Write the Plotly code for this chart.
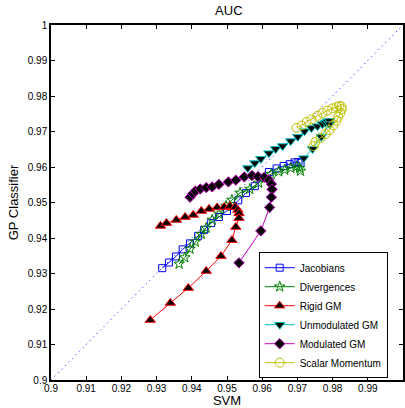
import plotly.graph_objects as go

# ---- data ----
jac_x = [0.9316, 0.9335, 0.9355, 0.9374, 0.9395, 0.9418, 0.9435, 0.9455, 0.9477, 0.9500, 0.9517,
         0.9532, 0.9554, 0.9579, 0.9602, 0.9619, 0.9641, 0.9661, 0.9678, 0.9692, 0.9703, 0.9709]
jac_y = [0.9315, 0.9331, 0.9348, 0.9368, 0.9385, 0.9406, 0.9423, 0.9442, 0.9459, 0.9476, 0.9490,
         0.9506, 0.9527, 0.9546, 0.9569, 0.9586, 0.9596, 0.9603, 0.9608, 0.9613, 0.9614, 0.9611]

div_x = [0.9364, 0.9380, 0.9395, 0.9410, 0.9427, 0.9441, 0.9458, 0.9477, 0.9497, 0.9514, 0.9537,
         0.9565, 0.9590, 0.9607, 0.9626, 0.9647, 0.9664, 0.9681, 0.9698, 0.9706, 0.9709]
div_y = [0.9327, 0.9345, 0.9369, 0.9389, 0.9411, 0.9428, 0.9451, 0.9468, 0.9490, 0.9507, 0.9527,
         0.9538, 0.9555, 0.9569, 0.9580, 0.9587, 0.9592, 0.9597, 0.9601, 0.9597, 0.9589]

rig_x = [0.9311, 0.9328, 0.9356, 0.9381, 0.9404, 0.9427, 0.9449, 0.9472, 0.9492, 0.9508, 0.9523,
         0.9531, 0.9534, 0.9534, 0.9525, 0.9514, 0.9483, 0.9441, 0.9390, 0.9339, 0.9282]
rig_y = [0.9434, 0.9442, 0.9451, 0.9459, 0.9465, 0.9476, 0.9482, 0.9486, 0.9487, 0.9490, 0.9487,
         0.9479, 0.9470, 0.9456, 0.9431, 0.9394, 0.9349, 0.9307, 0.9259, 0.9217, 0.9169]

unm_x = [0.9559, 0.9579, 0.9596, 0.9619, 0.9638, 0.9658, 0.9681, 0.9701, 0.9720, 0.9740, 0.9757,
         0.9771, 0.9780, 0.9785, 0.9791, 0.9791, 0.9768, 0.9743, 0.9718]
unm_y = [0.9597, 0.9611, 0.9623, 0.9639, 0.9651, 0.9659, 0.9673, 0.9685, 0.9701, 0.9710, 0.9715,
         0.9721, 0.9725, 0.9728, 0.9730, 0.9721, 0.9685, 0.9651, 0.9625]

mod_x = [0.9395, 0.9403, 0.9410, 0.9424, 0.9441, 0.9458, 0.9477, 0.9504, 0.9525, 0.9549, 0.9571,
         0.9588, 0.9606, 0.9619, 0.9626, 0.9628, 0.9626, 0.9621, 0.9596, 0.9534]
mod_y = [0.9515, 0.9525, 0.9532, 0.9538, 0.9542, 0.9544, 0.9551, 0.9558, 0.9563, 0.9572, 0.9576,
         0.9573, 0.9571, 0.9563, 0.9552, 0.9537, 0.9515, 0.9486, 0.9420, 0.9330]

sca_x = [0.9698, 0.9712, 0.9726, 0.9740, 0.9757, 0.9771, 0.9785, 0.9799, 0.9811, 0.9819, 0.9825,
         0.9826, 0.9822, 0.9816, 0.9811, 0.9802, 0.9791, 0.9780, 0.9766, 0.9751, 0.9746]
sca_y = [0.9710, 0.9717, 0.9727, 0.9734, 0.9744, 0.9752, 0.9759, 0.9765, 0.9769, 0.9772, 0.9770,
         0.9763, 0.9752, 0.9741, 0.9730, 0.9718, 0.9704, 0.9693, 0.9682, 0.9670, 0.9659]

diag = [0.9, 1.0]
tick_vals = [0.9, 0.91, 0.92, 0.93, 0.94, 0.95, 0.96, 0.97, 0.98, 0.99, 1.0]
tick_text = ["0.9", "0.91", "0.92", "0.93", "0.94", "0.95", "0.96", "0.97", "0.98", "0.99", "1"]

FONT = "Liberation Sans, Arial, sans-serif"

fig = go.Figure()
fig.add_trace(go.Scatter(x=diag, y=diag, mode="lines", showlegend=False,
                         line=dict(color="#0000ff", width=1, dash="1px,4px"), hoverinfo="skip"))

series = [
    ("Jacobians", jac_x, jac_y, "#0000ff", "square-open", "#0000ff", 7),
    ("Divergences", div_x, div_y, "#008000", "star-open", "#008000", 8),
    ("Rigid GM", rig_x, rig_y, "#ff0000", "triangle-up", "#000000", 9),
    ("Unmodulated GM", unm_x, unm_y, "#00bfbf", "triangle-down", "#000000", 9),
    ("Modulated GM", mod_x, mod_y, "#bf00bf", "diamond", "#000000", 8),
    ("Scalar Momentum", sca_x, sca_y, "#bfbf00", "circle-open", "#bfbf00", 9),
]
for name, xs, ys, lc, sym, fc, sz in series:
    fig.add_trace(go.Scatter(
        x=xs, y=ys, name=name, mode="lines+markers",
        line=dict(color=lc, width=1),
        marker=dict(symbol=sym, size=sz, color=fc, line=dict(color=lc, width=1)),
    ))

axis_common = dict(
    range=[0.9, 1.0], tickvals=tick_vals, ticktext=tick_text,
    showline=True, linecolor="black", linewidth=1.5, mirror="ticks",
    ticks="inside", ticklen=4, tickcolor="black", showgrid=False, zeroline=False,
    tickfont=dict(family=FONT, size=10, color="black"),
)

fig.update_layout(
    width=405, height=408,
    margin=dict(l=51, r=0, t=25, b=28),
    paper_bgcolor="white", plot_bgcolor="white",
    title=dict(text="AUC", x=0.565, xanchor="center", y=0.975, yanchor="middle",
               font=dict(family=FONT, size=13, color="black")),
    xaxis=dict(axis_common, ticklabelstandoff=-2,
               title=dict(text="SVM", standoff=0,
                          font=dict(family=FONT, size=13, color="black"))),
    yaxis=dict(axis_common, title=dict(text="GP Classifier", standoff=6,
                                        font=dict(family=FONT, size=13, color="black"))),
    legend=dict(x=0.59, y=0.36, xanchor="left", yanchor="top",
                bgcolor="white", bordercolor="black", borderwidth=1,
                font=dict(family=FONT, size=10, color="black"),
                itemwidth=30, tracegroupgap=0),
    showlegend=True,
)

fig.write_html("out.html")
